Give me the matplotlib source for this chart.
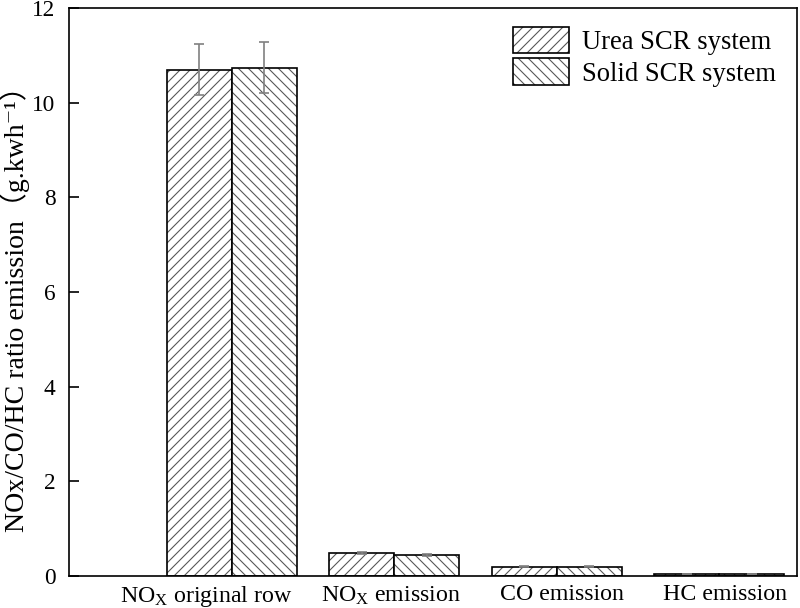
import matplotlib
matplotlib.use("Agg")
import matplotlib.pyplot as plt
import numpy as np
from matplotlib.patches import Patch
from matplotlib.legend_handler import HandlerTuple
from matplotlib.transforms import ScaledTranslation

categories = ["NO$_\\mathrm{X}$ original row", "NO$_\\mathrm{X}$ emission", "CO emission", "HC emission"]
urea = [10.70, 0.48, 0.20, 0.05]
solid = [10.74, 0.44, 0.20, 0.05]
urea_err = [0.53, 0.02, 0.01, 0.0]
solid_err = [0.54, 0.02, 0.01, 0.0]
series_names = ["Urea SCR system", "Solid SCR system"]
yticks = [0, 2, 4, 6, 8, 10, 12]

plt.rcParams['font.family'] = ['Liberation Serif', 'Noto Sans CJK SC', 'DejaVu Serif']
plt.rcParams['mathtext.fontset'] = 'custom'
plt.rcParams['mathtext.rm'] = 'Liberation Serif'
plt.rcParams['mathtext.it'] = 'Liberation Serif:italic'
plt.rcParams['hatch.linewidth'] = 0.65

DPI = 120
fig = plt.figure(figsize=(800 / DPI, 608 / DPI), dpi=DPI)
ax = fig.add_axes([69 / 800, 1 - 576 / 608, (797 - 69) / 800, (576 - 8) / 608])

x = np.arange(len(categories))
w = 0.4
hatch_col = '#555555'
err_col = '#808080'
hatch_a = '////'
hatch_b = '\\\\\\\\'

ax.bar(x - w / 2, urea, w, facecolor='white', edgecolor=hatch_col, linewidth=0, hatch=hatch_a)
ax.bar(x - w / 2, urea, w, facecolor='none', edgecolor='black', linewidth=1.0)
ax.bar(x + w / 2, solid, w, facecolor='white', edgecolor=hatch_col, linewidth=0, hatch=hatch_b)
ax.bar(x + w / 2, solid, w, facecolor='none', edgecolor='black', linewidth=1.0)

ax.errorbar(x - w / 2, urea, yerr=urea_err, fmt='none', ecolor=err_col, elinewidth=1.0, capsize=3, capthick=1.0)
ax.errorbar(x + w / 2, solid, yerr=solid_err, fmt='none', ecolor=err_col, elinewidth=1.0, capsize=3, capthick=1.0)

ax.set_xlim(-1.0, 3.48)
ax.set_ylim(0, 12)
ax.set_yticks(yticks)
ax.set_yticklabels([str(t) for t in yticks], fontsize=14)
ax.tick_params(axis='y', direction='in', length=6, width=1.0, pad=8, right=False)
ax.set_xticks(x)
ax.set_xticklabels(categories, fontsize=14.3)
ax.tick_params(axis='x', length=0, pad=5)
label_shift_px = [-25, -3, 5, 6]
for lbl, dx in zip(ax.get_xticklabels(), label_shift_px):
    lbl.set_transform(lbl.get_transform() + ScaledTranslation(dx / DPI, 0, fig.dpi_scale_trans))
for s in ax.spines.values():
    s.set_linewidth(1.0)

ax.set_ylabel("NOx/CO/HC ratio emission（g.kwh⁻¹）", fontsize=16.7)
ax.yaxis.set_label_coords(-0.054, 0.482)

def mk(hatch):
    p1 = Patch(facecolor='white', edgecolor=hatch_col, linewidth=0, hatch=hatch)
    p2 = Patch(facecolor='none', edgecolor='black', linewidth=1.0)
    return (p1, p2)

leg = ax.legend([mk(hatch_a), mk(hatch_b)], series_names,
                handler_map={tuple: HandlerTuple(ndivide=1, pad=0)},
                loc='upper left', bbox_to_anchor=((513 - 69) / 728, (576 - 27) / 568),
                frameon=False, fontsize=16, handlelength=2.1, handleheight=1.15,
                labelspacing=0.12, handletextpad=0.5, borderpad=0, borderaxespad=0)

fig.savefig("out.png", dpi=DPI)
